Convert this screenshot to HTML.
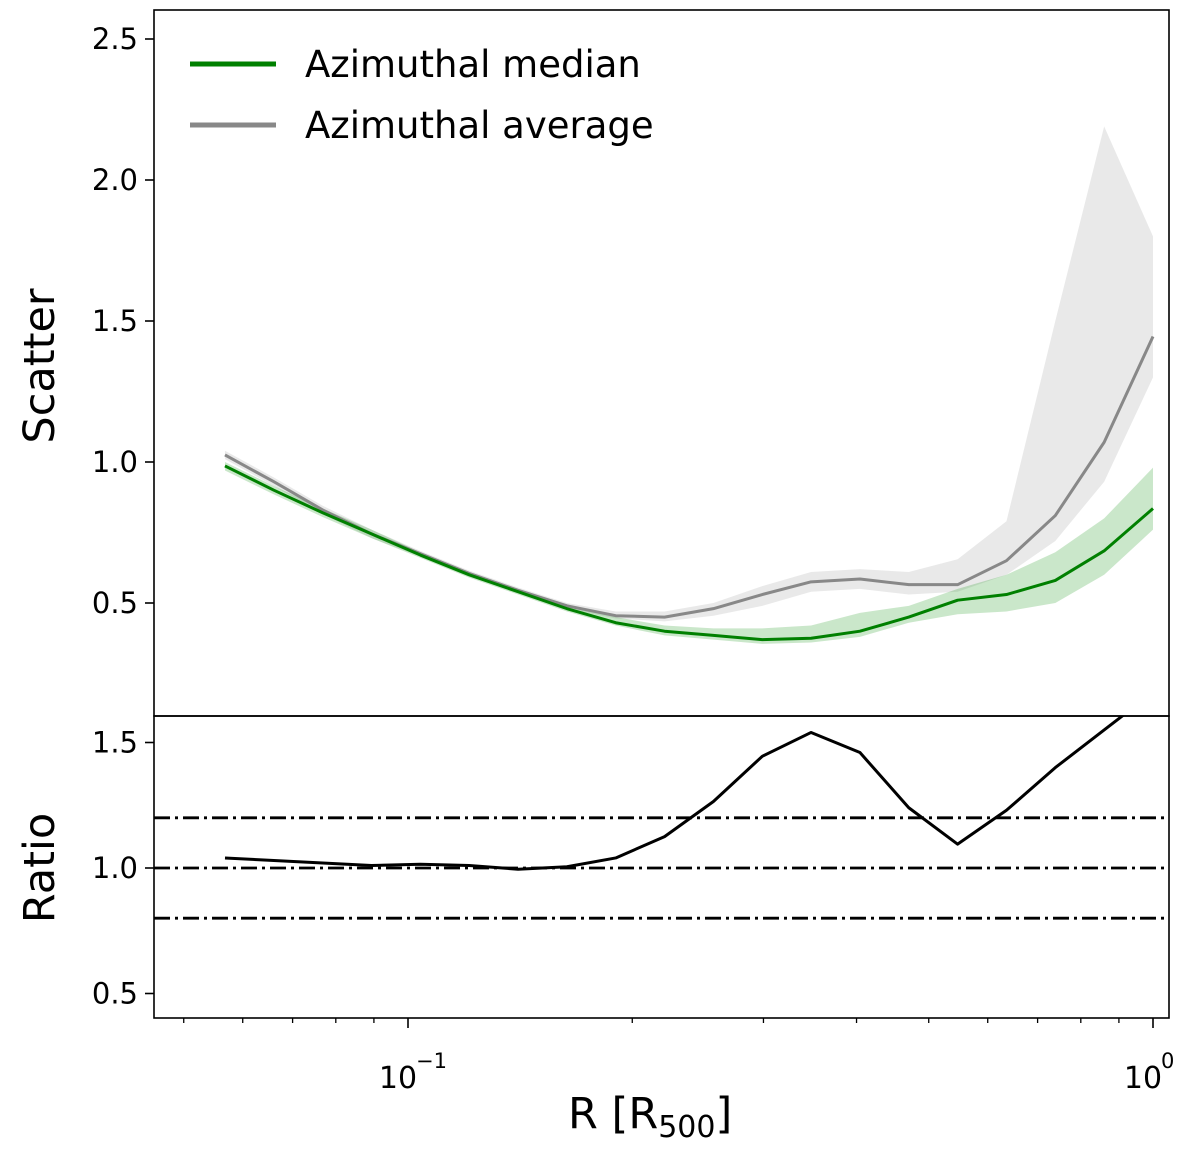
<!DOCTYPE html>
<html><head><meta charset="utf-8"><style>
body{margin:0;background:#fff;}
svg{display:block;font-family:"DejaVu Sans","Liberation Sans",sans-serif;}
</style></head><body>
<svg id="chart" width="1200" height="1153" viewBox="0 0 1200 1153" xmlns="http://www.w3.org/2000/svg">
<defs>
<clipPath id="ctop"><rect x="154" y="10" width="1015" height="706"/></clipPath>
<clipPath id="cbot"><rect x="154" y="716" width="1015" height="302"/></clipPath>
</defs>
<g id="gtop" clip-path="url(#ctop)"></g>
<g id="gbot" clip-path="url(#cbot)"></g>
<g id="gaxes"></g>
<g font-family="DejaVu Sans, Liberation Sans, sans-serif">
<line x1="190" y1="64" x2="276" y2="64" stroke="#008000" stroke-width="5"/>
<text x="305" y="77" font-size="37">Azimuthal median</text>
<line x1="190" y1="125" x2="276" y2="125" stroke="#888888" stroke-width="5"/>
<text x="305" y="138" font-size="37">Azimuthal average</text>
<text transform="translate(54,366) rotate(-90)" text-anchor="middle" font-size="43">Scatter</text>
<text transform="translate(54,868) rotate(-90)" text-anchor="middle" font-size="43">Ratio</text>
<text x="568" y="1128" font-size="43">R [R<tspan font-size="30" dy="9">500</tspan><tspan dy="-9">]</tspan></text>
</g>
</svg>
<script>
const radii = [0.0568,0.0652,0.0748,0.0859,0.0985,0.1130,0.1297,0.1488,0.1708,0.1960,0.2249,0.2581,0.2962,0.3399,0.3900,0.4476,0.5136,0.5894,0.6764,0.7762];
const medianVals = [0.986,0.90,0.82,0.745,0.67,0.60,0.54,0.48,0.43,0.40,0.385,0.37,0.375,0.40,0.45,0.51,0.53,0.58,0.685,0.835];
const medianLo = [0.97,0.885,0.805,0.73,0.66,0.59,0.53,0.47,0.42,0.385,0.37,0.355,0.36,0.38,0.43,0.46,0.47,0.50,0.60,0.76];
const medianHi = [1.0,0.915,0.835,0.76,0.68,0.61,0.55,0.495,0.45,0.42,0.41,0.41,0.42,0.465,0.49,0.55,0.60,0.68,0.80,0.98];
const averageVals = [1.025,0.93,0.83,0.745,0.675,0.605,0.545,0.49,0.455,0.45,0.48,0.53,0.575,0.585,0.565,0.565,0.65,0.81,1.07,1.445];
const averageLo = [1.01,0.915,0.815,0.73,0.665,0.595,0.535,0.48,0.445,0.435,0.455,0.49,0.54,0.55,0.53,0.54,0.60,0.72,0.93,1.30];
const averageHi = [1.04,0.945,0.845,0.76,0.685,0.615,0.555,0.50,0.47,0.47,0.50,0.56,0.61,0.62,0.61,0.655,0.79,1.5,2.19,1.8];
const ratioVals = [1.04,1.03,1.02,1.01,1.015,1.01,0.995,1.005,1.04,1.125,1.265,1.445,1.54,1.46,1.24,1.095,1.23,1.4,1.55,1.7];
const topTicks = [0.5,1.0,1.5,2.0,2.5];
const botTicks = [0.5,1.0,1.5];
const refLines = [0.8,1.0,1.2];

const xs = radii.map((_,i)=>Math.pow(10, Math.log10(0.0568) + i*(0-Math.log10(0.0568))/19));
const X = r => 408 + (Math.log10(r)+1)*745;
const YT = v => 462 - (v-1)*282;
const YB = v => 868 - (v-1)*251;
const NS="http://www.w3.org/2000/svg";
function mk(tag, attrs, parent, text){const e=document.createElementNS(NS,tag);for(const k in attrs)e.setAttribute(k,attrs[k]);if(text!==undefined)e.textContent=text;parent.appendChild(e);return e;}
const gTop=document.getElementById('gtop'), gBot=document.getElementById('gbot'), gAx=document.getElementById('gaxes');
function band(lo,hi,col,op){const p=xs.map((r,i)=>X(r)+','+YT(hi[i])).concat(xs.map((r,i)=>X(r)+','+YT(lo[i])).reverse());return mk('polygon',{points:p.join(' '),fill:col,'fill-opacity':op},gTop);}
function line(vals,Y,col,w,parent){return mk('polyline',{points:xs.map((r,i)=>X(r)+','+Y(vals[i])).join(' '),fill:'none',stroke:col,'stroke-width':w,'stroke-linejoin':'round'},parent);}
let e;
e=band(averageLo,averageHi,'#bbbbbb',0.33);


e=band(medianLo,medianHi,'#2ca02c',0.25);


e=line(averageVals,YT,'#888888',3,gTop);


e=line(medianVals,YT,'#008000',3,gTop);


refLines.forEach(v=>{
  const l=mk('line',{x1:154,x2:1169,y1:YB(v),y2:YB(v),stroke:'#000','stroke-width':2.8,'stroke-dasharray':'16 5 3 5'},gBot);
  
  
});
e=line(ratioVals,YB,'#000',3,gBot);


e=mk('rect',{x:154,y:10,width:1015,height:706,fill:'none',stroke:'#000','stroke-width':1.6},gAx);


e=mk('rect',{x:154,y:716,width:1015,height:302,fill:'none',stroke:'#000','stroke-width':1.6},gAx);


topTicks.forEach(v=>{
  mk('line',{x1:145,x2:154,y1:YT(v),y2:YT(v),stroke:'#000','stroke-width':1.6},gAx);
  const t=mk('text',{x:138,y:YT(v)+10,'text-anchor':'end','font-size':29},gAx,v.toFixed(1));
  
  
});
botTicks.forEach(v=>{
  mk('line',{x1:145,x2:154,y1:YB(v),y2:YB(v),stroke:'#000','stroke-width':1.6},gAx);
  const t=mk('text',{x:138,y:YB(v)+10,'text-anchor':'end','font-size':29},gAx,v.toFixed(1));
  
  
});
[0.05,0.06,0.07,0.08,0.09,0.2,0.3,0.4,0.5,0.6,0.7,0.8,0.9].forEach(r=>{
  mk('line',{x1:X(r),x2:X(r),y1:1018,y2:1023,stroke:'#000','stroke-width':1.3},gAx);
});
[[0.1,'−1'],[1,'0']].forEach(([r,s])=>{
  mk('line',{x1:X(r),x2:X(r),y1:1018,y2:1028,stroke:'#000','stroke-width':1.6},gAx);
  const t=mk('text',{x:X(r)-10,y:1088,'text-anchor':'middle','font-size':30},gAx,'10');
  
  
  mk('text',{x:X(r)+8,y:1068,'text-anchor':'start','font-size':21},gAx,s);
});
</script>
</body></html>
